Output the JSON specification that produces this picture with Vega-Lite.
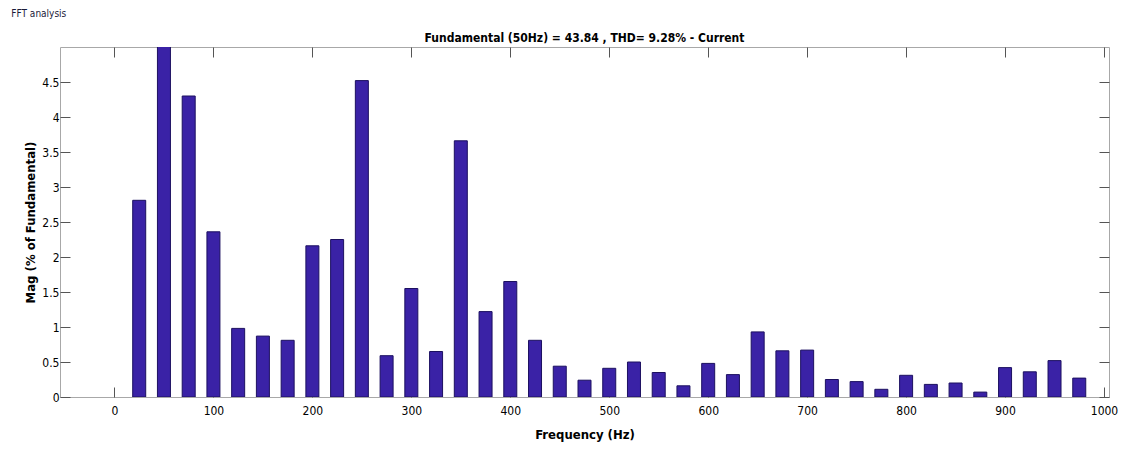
{
  "$schema": "https://vega.github.io/schema/vega-lite/v6.json",
  "background": "white",
  "padding": {"left": 11, "top": 9, "right": 0, "bottom": 0},
  "title": {"text": "FFT analysis", "anchor": "start", "frame": "bounds", "dx": -13, "offset": 12, "fontSize": 10, "fontWeight": "normal", "font": "DejaVu Sans Condensed, Liberation Sans, sans-serif", "color": "#1a1a3a"},
  "vconcat": [
    {
      "width": 1049,
      "height": 350,
      "title": {"text": "Fundamental (50Hz) = 43.84 , THD= 9.28% - Current", "anchor": "middle", "offset": 2, "fontSize": 12, "fontWeight": "bold", "font": "DejaVu Sans Condensed, Liberation Sans, sans-serif", "color": "#000000"},
      "data": {"values": [
        {"freq": 25, "mag": 2.81},
        {"freq": 50, "mag": 100},
        {"freq": 75, "mag": 4.30},
        {"freq": 100, "mag": 2.36},
        {"freq": 125, "mag": 0.98},
        {"freq": 150, "mag": 0.87},
        {"freq": 175, "mag": 0.81},
        {"freq": 200, "mag": 2.16},
        {"freq": 225, "mag": 2.25},
        {"freq": 250, "mag": 4.52},
        {"freq": 275, "mag": 0.59},
        {"freq": 300, "mag": 1.55},
        {"freq": 325, "mag": 0.65},
        {"freq": 350, "mag": 3.66},
        {"freq": 375, "mag": 1.22},
        {"freq": 400, "mag": 1.65},
        {"freq": 425, "mag": 0.81},
        {"freq": 450, "mag": 0.44},
        {"freq": 475, "mag": 0.24},
        {"freq": 500, "mag": 0.41},
        {"freq": 525, "mag": 0.50},
        {"freq": 550, "mag": 0.35},
        {"freq": 575, "mag": 0.16},
        {"freq": 600, "mag": 0.48},
        {"freq": 625, "mag": 0.32},
        {"freq": 650, "mag": 0.93},
        {"freq": 675, "mag": 0.66},
        {"freq": 700, "mag": 0.67},
        {"freq": 725, "mag": 0.25},
        {"freq": 750, "mag": 0.22},
        {"freq": 775, "mag": 0.11},
        {"freq": 800, "mag": 0.31},
        {"freq": 825, "mag": 0.18},
        {"freq": 850, "mag": 0.20},
        {"freq": 875, "mag": 0.07},
        {"freq": 900, "mag": 0.42},
        {"freq": 925, "mag": 0.36},
        {"freq": 950, "mag": 0.52},
        {"freq": 975, "mag": 0.27}
      ]},
      "layer": [
        {
          "mark": {"type": "bar", "size": 13, "clip": true, "fill": "#3a22a6", "stroke": "#1c1060", "strokeWidth": 1},
          "encoding": {
            "x": {"field": "freq", "type": "quantitative", "scale": {"domain": [-50, 1000], "nice": false, "zero": false},
              "axis": {"orient": "bottom", "title": "Frequency (Hz)", "format": "d", "values": [0,100,200,300,400,500,600,700,800,900,1000], "grid": false, "domain": false, "tickSize": -10, "tickColor": "#555555", "labelPadding": 18, "labelFontSize": 12, "labelFont": "DejaVu Sans Condensed, Liberation Sans, sans-serif", "labelColor": "#000000", "titleFontSize": 13, "titleFont": "DejaVu Sans Condensed, Liberation Sans, sans-serif", "titleFontWeight": "bold", "titleColor": "#000000", "titlePadding": 12}},
            "y": {"field": "mag", "type": "quantitative", "scale": {"domain": [0, 5], "nice": false},
              "axis": {"orient": "left", "title": "Mag (% of Fundamental)", "format": "~g", "values": [0,0.5,1,1.5,2,2.5,3,3.5,4,4.5], "grid": false, "domain": false, "tickSize": -10, "tickColor": "#555555", "labelPadding": 11, "labelFontSize": 12, "labelFont": "DejaVu Sans Condensed, Liberation Sans, sans-serif", "labelColor": "#000000", "titleFontSize": 13, "titleFont": "DejaVu Sans Condensed, Liberation Sans, sans-serif", "titleFontWeight": "bold", "titleColor": "#000000", "titlePadding": 4}}
          }
        },
        {
          "mark": {"type": "bar", "size": 13, "opacity": 0, "clip": true},
          "encoding": {
            "x": {"field": "freq", "type": "quantitative",
              "axis": {"orient": "top", "title": null, "labels": false, "values": [0,100,200,300,400,500,600,700,800,900,1000], "grid": false, "domain": false, "tickSize": -10, "tickColor": "#555555"}},
            "y": {"field": "mag", "type": "quantitative",
              "axis": {"orient": "right", "title": null, "labels": false, "values": [0,0.5,1,1.5,2,2.5,3,3.5,4,4.5], "grid": false, "domain": false, "tickSize": -10, "tickColor": "#555555"}}
          }
        }
      ],
      "resolve": {"axis": {"x": "independent", "y": "independent"}}
    }
  ],
  "config": {"view": {"stroke": "#a8a8a8", "strokeWidth": 1}}
}
